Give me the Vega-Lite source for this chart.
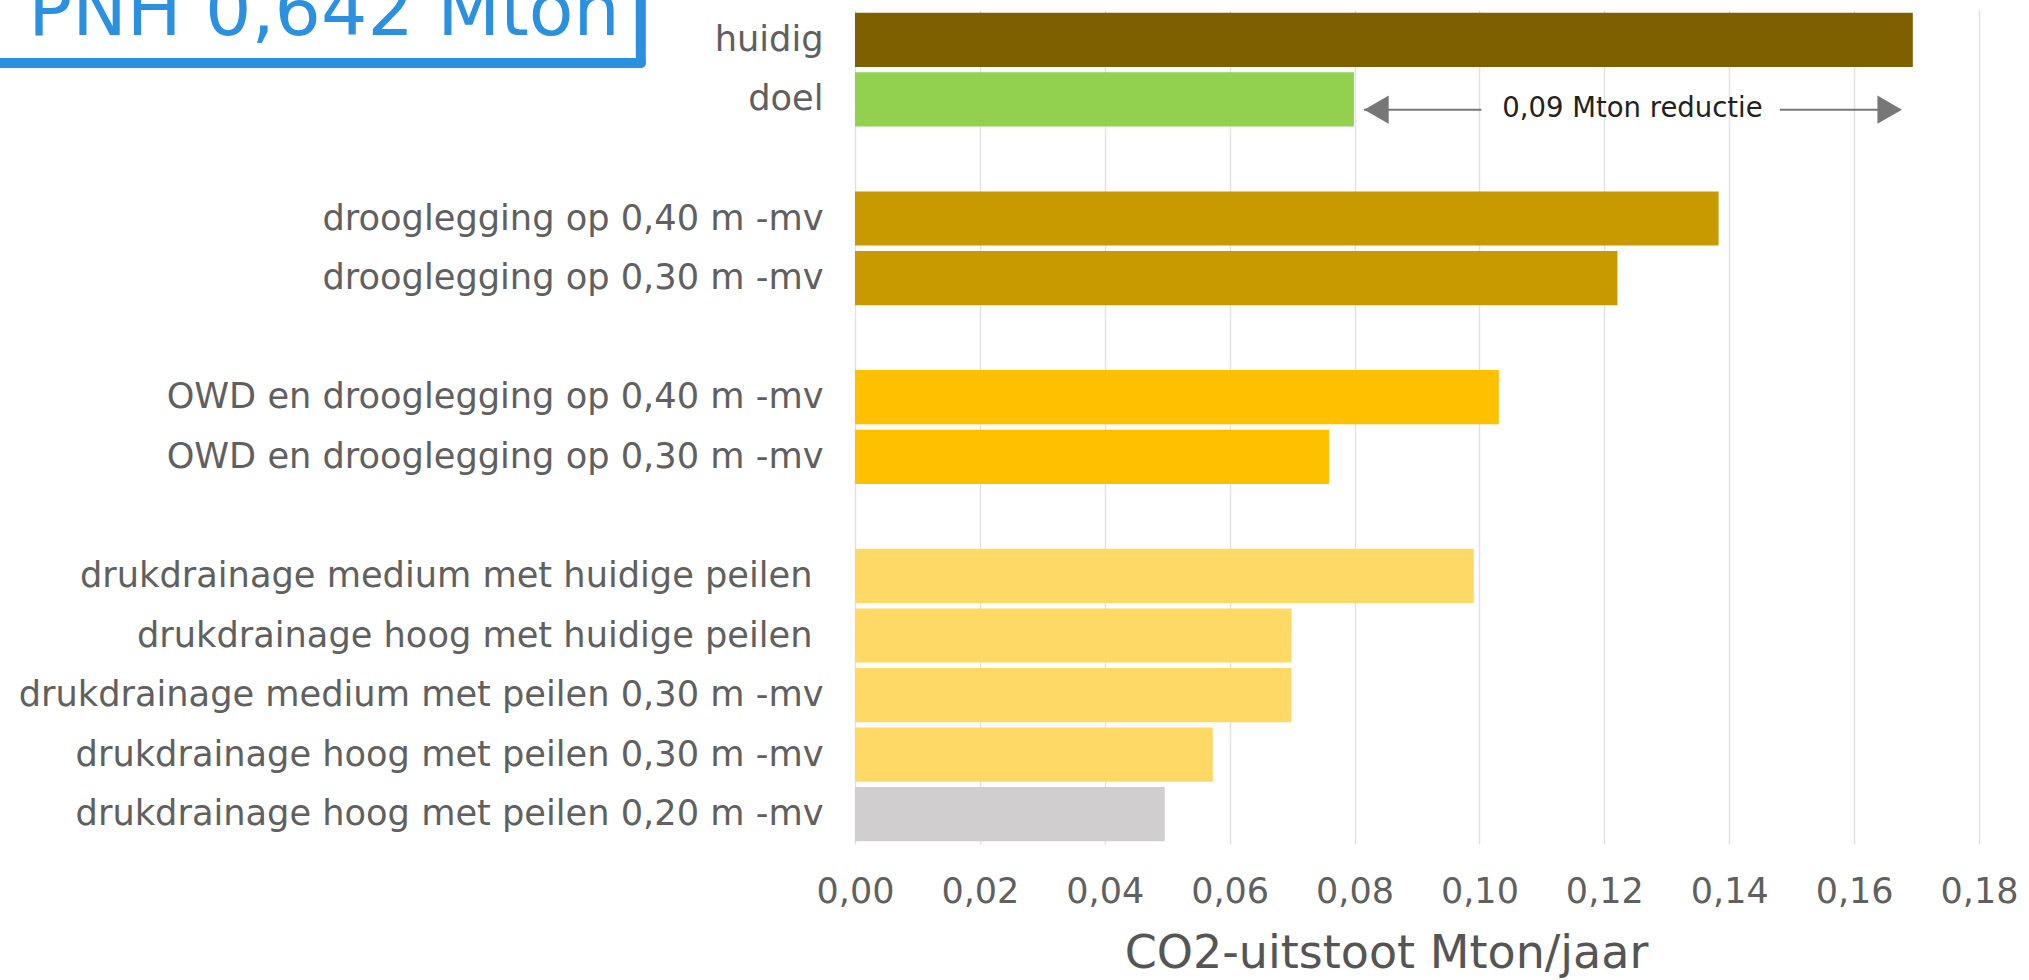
{
  "$schema": "https://vega.github.io/schema/vega-lite/v6.json",
  "autosize": {"type": "none"},
  "width": 1124,
  "height": 834,
  "padding": {"left": 855, "top": 10, "right": 50, "bottom": 136},
  "background": "white",
  "config": {"view": {"stroke": null}, "font": "DejaVu Sans"},
  "data": {"values": [
    {"maatregel": "huidig", "waarde": 0.1694, "groep": "huidig"},
    {"maatregel": "doel", "waarde": 0.0799, "groep": "doel"},
    {"maatregel": "drooglegging op 0,40 m -mv", "waarde": 0.1383, "groep": "drooglegging"},
    {"maatregel": "drooglegging op 0,30 m -mv", "waarde": 0.1221, "groep": "drooglegging"},
    {"maatregel": "OWD en drooglegging op 0,40 m -mv", "waarde": 0.1031, "groep": "OWD"},
    {"maatregel": "OWD en drooglegging op 0,30 m -mv", "waarde": 0.0759, "groep": "OWD"},
    {"maatregel": "drukdrainage medium met huidige peilen", "waarde": 0.0991, "groep": "drukdrainage"},
    {"maatregel": "drukdrainage hoog met huidige peilen", "waarde": 0.0699, "groep": "drukdrainage"},
    {"maatregel": "drukdrainage medium met peilen 0,30 m -mv", "waarde": 0.0699, "groep": "drukdrainage"},
    {"maatregel": "drukdrainage hoog met peilen 0,30 m -mv", "waarde": 0.0573, "groep": "drukdrainage"},
    {"maatregel": "drukdrainage hoog met peilen 0,20 m -mv", "waarde": 0.0496, "groep": "drukdrainage 0,20"}
  ]},
  "encoding": {
    "y": {
      "field": "maatregel", "type": "nominal", "title": null,
      "scale": {
        "domain": ["huidig", "doel", " ", "drooglegging op 0,40 m -mv", "drooglegging op 0,30 m -mv", "  ", "OWD en drooglegging op 0,40 m -mv", "OWD en drooglegging op 0,30 m -mv", "   ", "drukdrainage medium met huidige peilen", "drukdrainage hoog met huidige peilen", "drukdrainage medium met peilen 0,30 m -mv", "drukdrainage hoog met peilen 0,30 m -mv", "drukdrainage hoog met peilen 0,20 m -mv"],
        "paddingInner": 0.09, "paddingOuter": 0.045
      },
      "axis": {"domain": false, "ticks": false, "grid": false, "labelFontSize": 35.2, "labelColor": "#606060", "labelPadding": {"condition": {"test": "indexof(datum.value, 'huidige') >= 0", "value": 43}, "value": 32}, "labelFont": "DejaVu Sans", "labelLimit": 0}
    }
  },
  "layer": [
    {
      "mark": {"type": "bar"},
      "encoding": {
        "x": {
          "field": "waarde", "type": "quantitative", "title": "CO2-uitstoot Mton/jaar",
          "scale": {"domain": [0, 0.18], "nice": false},
          "axis": {"values": [0, 0.02, 0.04, 0.06, 0.08, 0.1, 0.12, 0.14, 0.16, 0.18], "labelExpr": "replace(format(datum.value, '.2f'), '.', ',')", "domain": false, "ticks": false, "gridColor": "#e2e2e2", "gridWidth": 1.5, "labelFontSize": 35, "labelColor": "#606060", "labelPadding": 30, "labelFont": "DejaVu Sans", "titleFontSize": 46, "titleFontWeight": "normal", "titleColor": "#555555", "titlePadding": 22, "titleFont": "DejaVu Sans", "labelFlush": false, "titleX": 531, "titleAlign": "center", "titleAnchor": null}
        },
        "color": {
          "field": "groep", "type": "nominal", "legend": null,
          "scale": {"domain": ["huidig", "doel", "drooglegging", "OWD", "drukdrainage", "drukdrainage 0,20"], "range": ["#7f6000", "#92d050", "#c89a00", "#ffc000", "#ffd966", "#d0cece"]}
        }
      }
    },
    {
      "data": {"values": [{}]},
      "mark": {"type": "rule", "color": "#777777", "strokeWidth": 2},
      "encoding": {
        "x": {"datum": 0.0815, "type": "quantitative"},
        "x2": {"datum": 0.1003},
        "y": {"datum": "doel", "type": "nominal", "bandPosition": 0.69}
      }
    },
    {
      "data": {"values": [{}]},
      "mark": {"type": "rule", "color": "#777777", "strokeWidth": 2},
      "encoding": {
        "x": {"datum": 0.1481, "type": "quantitative"},
        "x2": {"datum": 0.1655},
        "y": {"datum": "doel", "type": "nominal", "bandPosition": 0.69}
      }
    },
    {
      "data": {"values": [{}]},
      "mark": {"type": "point", "shape": "triangle-left", "filled": true, "color": "#777777", "size": 800, "opacity": 1},
      "encoding": {
        "x": {"datum": 0.0835, "type": "quantitative"},
        "y": {"datum": "doel", "type": "nominal", "bandPosition": 0.69}
      }
    },
    {
      "data": {"values": [{}]},
      "mark": {"type": "point", "shape": "triangle-right", "filled": true, "color": "#777777", "size": 800, "opacity": 1},
      "encoding": {
        "x": {"datum": 0.1657, "type": "quantitative"},
        "y": {"datum": "doel", "type": "nominal", "bandPosition": 0.69}
      }
    },
    {
      "data": {"values": [{}]},
      "mark": {"type": "text", "text": "0,09 Mton reductie", "fontSize": 27.5, "color": "#222222", "align": "center", "baseline": "middle", "font": "DejaVu Sans"},
      "encoding": {
        "x": {"datum": 0.1245, "type": "quantitative"},
        "y": {"datum": "doel", "type": "nominal", "bandPosition": 0.67}
      }
    },
    {
      "data": {"values": [{}]},
      "mark": {"type": "rule", "color": "#2b90e0", "strokeWidth": 10, "strokeCap": "round"},
      "encoding": {
        "x": {"datum": -0.0343, "type": "quantitative"},
        "y": {"datum": "huidig", "type": "nominal", "bandPosition": -0.8},
        "y2": {"datum": "huidig", "bandPosition": 0.928}
      }
    },
    {
      "data": {"values": [{}]},
      "mark": {"type": "rule", "color": "#2b90e0", "strokeWidth": 10, "strokeCap": "round"},
      "encoding": {
        "x": {"datum": -0.2, "type": "quantitative"},
        "x2": {"datum": -0.0343},
        "y": {"datum": "huidig", "type": "nominal", "bandPosition": 0.928}
      }
    },
    {
      "data": {"values": [{}]},
      "mark": {"type": "text", "text": "PNH 0,642 Mton", "fontSize": 73, "color": "#2b90e0", "align": "left", "baseline": "alphabetic", "font": "DejaVu Sans"},
      "encoding": {
        "x": {"datum": -0.1324, "type": "quantitative"},
        "y": {"datum": "huidig", "type": "nominal", "bandPosition": 0.41}
      }
    }
  ]
}
